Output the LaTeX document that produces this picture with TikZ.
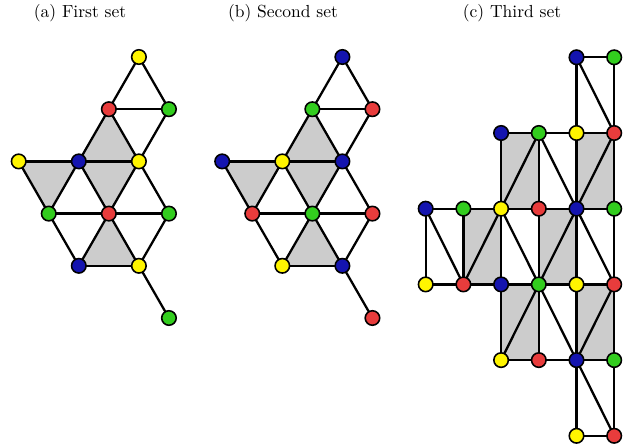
\documentclass[tikz,border=0pt]{standalone}
\usetikzlibrary{backgrounds}
\definecolor{vy}{RGB}{255,245,0}
\definecolor{vr}{RGB}{232,60,60}
\definecolor{vg}{RGB}{50,205,30}
\definecolor{vb}{RGB}{20,20,175}
\definecolor{shadegray}{RGB}{204,204,204}
\tikzset{
  v/.style={circle,draw=black,line width=0.9pt,minimum size=8.3pt,inner sep=0pt},
  Y/.style={v,fill=vy},
  R/.style={v,fill=vr},
  G/.style={v,fill=vg},
  B/.style={v,fill=vb},
  edge/.style={line width=1.3pt,black},
  tri/.style={fill=shadegray},
  title/.style={font=\normalsize}
}
\begin{document}
\begin{tikzpicture}[x=0.572pt,y=-0.572pt]
\useasboundingbox (0,0) rectangle (630,445);
% titles
\node[title] (ta) at (80,13) {(a) First set};
\node[title] (tb) at (283,13) {(b) Second set};
\node[title] (tc) at (512,13) {(c) Third set};
% ---------- panel (a)
\node[Y] (a1) at (138.9,57) {};
\node[R] (a2) at (108.85,109.2) {};
\node[G] (a3) at (168.95,109.2) {};
\node[Y] (a4) at (18.7,161.4) {};
\node[B] (a5) at (78.8,161.4) {};
\node[Y] (a6) at (138.9,161.4) {};
\node[G] (a7) at (48.75,213.6) {};
\node[R] (a8) at (108.85,213.6) {};
\node[G] (a9) at (168.95,213.6) {};
\node[B] (a10) at (78.8,265.8) {};
\node[Y] (a11) at (138.9,265.8) {};
\node[G] (a12) at (168.95,318) {};
% ---------- panel (b)
\node[B] (b1) at (342.4,57) {};
\node[G] (b2) at (312.35,109.2) {};
\node[R] (b3) at (372.45,109.2) {};
\node[B] (b4) at (222.2,161.4) {};
\node[Y] (b5) at (282.3,161.4) {};
\node[B] (b6) at (342.4,161.4) {};
\node[R] (b7) at (252.25,213.6) {};
\node[G] (b8) at (312.35,213.6) {};
\node[R] (b9) at (372.45,213.6) {};
\node[Y] (b10) at (282.3,265.8) {};
\node[B] (b11) at (342.4,265.8) {};
\node[R] (b12) at (372.45,318) {};
% ---------- panel (c)
\node[B] (c40) at (576.5,57.3) {};
\node[G] (c50) at (614.2,57.3) {};
\node[B] (c21) at (501.1,133) {};
\node[G] (c31) at (538.8,133) {};
\node[Y] (c41) at (576.5,133) {};
\node[R] (c51) at (614.2,133) {};
\node[B] (c02) at (425.7,208.7) {};
\node[G] (c12) at (463.4,208.7) {};
\node[Y] (c22) at (501.1,208.7) {};
\node[R] (c32) at (538.8,208.7) {};
\node[B] (c42) at (576.5,208.7) {};
\node[G] (c52) at (614.2,208.7) {};
\node[Y] (c03) at (425.7,284.4) {};
\node[R] (c13) at (463.4,284.4) {};
\node[B] (c23) at (501.1,284.4) {};
\node[G] (c33) at (538.8,284.4) {};
\node[Y] (c43) at (576.5,284.4) {};
\node[R] (c53) at (614.2,284.4) {};
\node[Y] (c24) at (501.1,360.1) {};
\node[R] (c34) at (538.8,360.1) {};
\node[B] (c44) at (576.5,360.1) {};
\node[G] (c54) at (614.2,360.1) {};
\node[Y] (c45) at (576.5,435.8) {};
\node[R] (c55) at (614.2,435.8) {};
\begin{pgfonlayer}{background}
% fills (a)
\fill[tri] (a2.center) -- (a5.center) -- (a6.center) -- cycle;
\fill[tri] (a4.center) -- (a5.center) -- (a7.center) -- cycle;
\fill[tri] (a5.center) -- (a6.center) -- (a8.center) -- cycle;
\fill[tri] (a8.center) -- (a10.center) -- (a11.center) -- cycle;
% fills (b)
\fill[tri] (b2.center) -- (b5.center) -- (b6.center) -- cycle;
\fill[tri] (b4.center) -- (b5.center) -- (b7.center) -- cycle;
\fill[tri] (b5.center) -- (b6.center) -- (b8.center) -- cycle;
\fill[tri] (b8.center) -- (b10.center) -- (b11.center) -- cycle;
% fills (c)
\fill[tri] (c21.center) -- (c31.center) -- (c32.center) -- (c22.center) -- cycle;
\fill[tri] (c41.center) -- (c51.center) -- (c52.center) -- (c42.center) -- cycle;
\fill[tri] (c12.center) -- (c22.center) -- (c23.center) -- (c13.center) -- cycle;
\fill[tri] (c32.center) -- (c42.center) -- (c43.center) -- (c33.center) -- cycle;
\fill[tri] (c23.center) -- (c33.center) -- (c34.center) -- (c24.center) -- cycle;
\fill[tri] (c43.center) -- (c53.center) -- (c54.center) -- (c44.center) -- cycle;
% edges (a)
\foreach \p/\q in {1/2,1/3,2/3,2/5,2/6,3/6,4/5,5/6,4/7,5/7,5/8,6/8,6/9,7/8,8/9,7/10,8/10,8/11,9/11,10/11,11/12}{
  \draw[edge] (a\p.center) -- (a\q.center);
  \draw[edge] (b\p.center) -- (b\q.center);
}
% edges (c)
\foreach \p/\q in {40/50,40/41,50/51,40/51,
  21/31,31/41,41/51,21/22,31/32,41/42,51/52,31/22,31/42,51/42,
  02/12,12/22,22/32,32/42,42/52,02/03,12/13,22/23,32/33,42/43,52/53,02/13,22/13,22/33,42/33,42/53,
  03/13,13/23,23/33,33/43,43/53,23/24,33/34,43/44,53/54,33/24,33/44,53/44,
  24/34,34/44,44/54,44/45,54/55,44/55,45/55}{
  \draw[edge] (c\p.center) -- (c\q.center);
}
\end{pgfonlayer}
\end{tikzpicture}
\end{document}
